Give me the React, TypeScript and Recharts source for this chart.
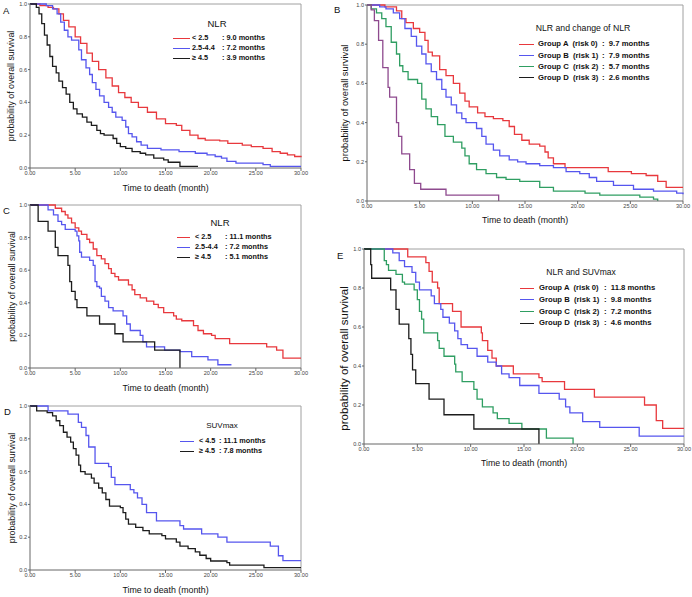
import React from 'react';
import { LineChart, Line, XAxis, YAxis, ReferenceLine, Legend } from 'recharts';

type Pt = [number, number];

const FONT = "'Liberation Sans', Arial, sans-serif";
const RED = '#e8383d';
const BLUE = '#5656ee';
const BLACK = '#1c1c1c';
const GREEN = '#2f9e62';
const PURPLE = '#8e4a8e';

const xTicks = [0, 5, 10, 15, 20, 25, 30];
const yTicks = [0, 0.2, 0.4, 0.6, 0.8, 1];
const xAxisTitle = 'Time to death (month)';
const yAxisTitle = 'probability of overall survival';

// Panel A: NLR
const aLow: Pt[] = [[0,1],[1.1,0.99],[2.0,0.98],[2.6,0.97],[3.2,0.94],[3.7,0.90],[4.3,0.86],[5.0,0.80],[5.6,0.76],[6.3,0.70],[6.9,0.65],[7.6,0.60],[8.4,0.55],[9.1,0.50],[9.8,0.46],[10.5,0.43],[11.2,0.40],[12.0,0.37],[13.0,0.34],[14.0,0.30],[15.0,0.27],[16.2,0.26],[16.8,0.23],[17.7,0.20],[18.6,0.18],[19.4,0.17],[21.0,0.165],[21.9,0.15],[23.5,0.14],[24.5,0.13],[25.8,0.12],[26.8,0.10],[27.7,0.09],[28.5,0.08],[29.3,0.07],[30,0.065]];
const aMid: Pt[] = [[0,1],[1.8,0.99],[2.5,0.97],[3.0,0.94],[3.4,0.89],[3.8,0.84],[4.2,0.80],[4.6,0.78],[5.4,0.72],[5.7,0.66],[6.2,0.61],[6.6,0.57],[6.9,0.52],[7.3,0.48],[7.7,0.44],[8.2,0.40],[8.7,0.37],[9.1,0.34],[9.5,0.31],[10.2,0.29],[10.6,0.25],[10.9,0.21],[11.3,0.19],[11.8,0.16],[12.3,0.14],[13.0,0.12],[14.5,0.11],[16.5,0.10],[18.3,0.09],[19.6,0.08],[20.5,0.07],[21.2,0.06],[21.8,0.04],[22.8,0.03],[25.8,0.02],[26.6,0.01],[30,0.01]];
const aHigh: Pt[] = [[0,1],[0.7,0.98],[1.0,0.94],[1.3,0.88],[1.6,0.81],[1.9,0.75],[2.2,0.68],[2.5,0.62],[2.9,0.58],[3.2,0.53],[3.6,0.49],[4.0,0.45],[4.4,0.40],[4.8,0.36],[5.2,0.33],[5.8,0.31],[6.3,0.28],[6.8,0.26],[7.4,0.23],[7.8,0.21],[8.2,0.20],[9.2,0.18],[9.6,0.15],[10.0,0.13],[10.6,0.12],[11.3,0.10],[12.2,0.09],[12.8,0.08],[13.7,0.06],[14.8,0.05],[15.3,0.035],[16.6,0.01],[18.6,0.01]];

// Panel B: NLR and change of NLR
const bGroupA: Pt[] = [[0,1],[1.7,0.99],[2.8,0.97],[3.3,0.93],[3.7,0.91],[4.4,0.88],[5.0,0.86],[5.5,0.82],[5.8,0.76],[6.2,0.74],[6.9,0.67],[7.5,0.64],[8.2,0.60],[8.8,0.55],[9.3,0.51],[9.7,0.48],[10.5,0.45],[11.2,0.43],[12.0,0.42],[12.9,0.41],[13.5,0.38],[14.0,0.34],[14.7,0.31],[15.4,0.29],[16.4,0.28],[16.9,0.25],[17.2,0.22],[17.7,0.19],[18.8,0.17],[22.9,0.15],[25.1,0.14],[26.5,0.13],[27.6,0.10],[28.4,0.07],[30,0.07]];
const bGroupB: Pt[] = [[0,1],[1.2,0.99],[1.8,0.98],[2.5,0.96],[3.1,0.93],[3.6,0.88],[4.2,0.84],[4.7,0.79],[5.2,0.75],[5.6,0.70],[6.1,0.66],[6.6,0.62],[7.1,0.57],[7.5,0.53],[8.0,0.49],[8.5,0.45],[9.0,0.42],[9.4,0.40],[10.4,0.37],[10.9,0.33],[11.3,0.29],[12.0,0.26],[12.6,0.23],[13.5,0.21],[14.3,0.20],[15.1,0.19],[16.4,0.18],[17.7,0.17],[18.9,0.15],[20.2,0.14],[21.1,0.12],[21.8,0.10],[23.4,0.08],[25.3,0.06],[27.2,0.05],[29.4,0.04],[30,0.035]];
const bGroupC: Pt[] = [[0,1],[0.4,0.98],[0.9,0.96],[1.4,0.93],[1.8,0.89],[2.3,0.81],[2.8,0.75],[3.1,0.69],[3.4,0.66],[3.9,0.62],[4.8,0.60],[5.2,0.52],[5.6,0.47],[6.1,0.43],[6.7,0.39],[7.4,0.33],[8.2,0.30],[9.0,0.27],[9.3,0.23],[9.7,0.19],[10.4,0.16],[11.3,0.14],[12.3,0.12],[13.2,0.11],[14.5,0.10],[16.4,0.07],[17.7,0.05],[20.7,0.04],[22.1,0.03],[25.9,0.02],[27.2,0.01],[27.6,0]];
const bGroupD: Pt[] = [[0,1],[0.4,0.975],[0.7,0.92],[1.1,0.82],[1.5,0.68],[2.0,0.58],[2.15,0.53],[2.8,0.40],[3.0,0.33],[3.3,0.24],[4.05,0.16],[4.5,0.09],[5.1,0.06],[7.5,0.03],[12.5,0]];

// Panel C: NLR
const cLow: Pt[] = [[0,1],[2.8,0.98],[3.5,0.96],[3.9,0.94],[4.2,0.92],[4.6,0.89],[5.0,0.86],[5.4,0.84],[5.7,0.82],[6.3,0.79],[6.6,0.77],[7.0,0.73],[7.4,0.69],[7.9,0.67],[8.3,0.64],[8.7,0.61],[9.0,0.58],[9.4,0.56],[9.8,0.54],[10.9,0.51],[11.3,0.48],[11.6,0.45],[12.2,0.43],[12.9,0.41],[13.7,0.39],[14.2,0.37],[14.8,0.34],[15.9,0.32],[16.2,0.30],[16.8,0.29],[18.1,0.26],[18.6,0.23],[19.2,0.21],[20.1,0.20],[20.5,0.18],[22.1,0.15],[25.8,0.15],[26.2,0.13],[27.3,0.11],[28.0,0.06],[30,0.06]];
const cMid: Pt[] = [[0,1],[2.0,0.97],[2.6,0.94],[3.1,0.90],[3.5,0.88],[3.9,0.85],[5.0,0.84],[5.2,0.81],[5.4,0.78],[5.5,0.71],[5.7,0.68],[6.6,0.66],[7.0,0.63],[7.2,0.53],[7.4,0.50],[7.7,0.49],[7.9,0.44],[8.3,0.41],[8.7,0.37],[9.2,0.35],[10.3,0.32],[10.7,0.27],[11.1,0.23],[12.2,0.20],[12.5,0.16],[12.9,0.13],[14.9,0.11],[16.6,0.10],[17.9,0.07],[19.7,0.05],[20.8,0.02],[22.3,0.02]];
const cHigh: Pt[] = [[0,1],[0.9,0.90],[2.0,0.84],[2.8,0.74],[3.1,0.69],[4.2,0.63],[4.4,0.53],[4.6,0.47],[5.0,0.42],[5.2,0.37],[6.3,0.32],[7.7,0.27],[9.4,0.21],[10.3,0.16],[13.8,0.11],[16.6,0]];

// Panel D: SUVmax
const dLow: Pt[] = [[0,1],[2.0,0.97],[4.2,0.95],[5.35,0.90],[5.7,0.87],[6.2,0.82],[6.5,0.75],[7.2,0.65],[8.7,0.63],[9.0,0.565],[9.4,0.52],[11.1,0.49],[11.5,0.47],[11.9,0.44],[12.4,0.40],[12.9,0.35],[14.0,0.30],[16.6,0.27],[17.0,0.25],[19.0,0.22],[20.8,0.20],[21.8,0.17],[26.6,0.146],[27.5,0.087],[28.0,0.057],[30,0.057]];
const dHigh: Pt[] = [[0,1],[0.74,0.97],[1.9,0.96],[2.5,0.94],[2.9,0.91],[3.3,0.88],[3.7,0.84],[4.1,0.81],[4.5,0.78],[4.8,0.74],[5.1,0.70],[5.4,0.64],[5.6,0.60],[6.1,0.585],[6.8,0.56],[7.1,0.53],[7.6,0.50],[8.0,0.47],[8.4,0.43],[8.8,0.39],[10.0,0.38],[10.3,0.35],[10.6,0.31],[10.9,0.28],[11.7,0.26],[12.5,0.24],[13.2,0.22],[14.6,0.21],[15.0,0.19],[16.2,0.17],[16.6,0.145],[17.5,0.13],[18.3,0.11],[18.8,0.09],[19.5,0.07],[20.0,0.055],[21.8,0.045],[22.1,0.03],[25.9,0.015],[30,0.015]];

// Panel E: NLR and SUVmax
const eGroupA: Pt[] = [[0,1],[4.1,0.96],[5.8,0.93],[6.1,0.885],[6.4,0.83],[6.9,0.80],[7.05,0.72],[8.3,0.68],[9.1,0.60],[11.0,0.57],[11.1,0.53],[11.6,0.48],[12.0,0.44],[12.4,0.40],[14.0,0.36],[16.4,0.34],[16.7,0.32],[18.8,0.28],[21.6,0.24],[26.3,0.20],[27.4,0.12],[28.0,0.08],[30,0.08]];
const eGroupB: Pt[] = [[0,1],[2.7,0.98],[3.3,0.94],[3.8,0.91],[4.5,0.88],[4.85,0.83],[5.2,0.79],[6.3,0.76],[6.6,0.72],[7.2,0.69],[7.4,0.65],[8.0,0.62],[8.5,0.58],[8.8,0.54],[9.1,0.51],[9.7,0.49],[10.6,0.45],[11.6,0.42],[12.4,0.40],[12.9,0.36],[13.6,0.34],[14.6,0.30],[16.4,0.26],[18.3,0.23],[18.9,0.19],[19.3,0.16],[20.5,0.115],[22.1,0.085],[25.8,0.04],[30,0.04]];
const eGroupC: Pt[] = [[0,1],[1.9,0.94],[2.1,0.92],[2.3,0.89],[3.0,0.87],[3.6,0.83],[3.8,0.82],[4.7,0.79],[5.0,0.74],[5.2,0.68],[5.4,0.64],[5.6,0.57],[6.9,0.53],[7.05,0.49],[7.5,0.45],[8.5,0.41],[8.6,0.37],[9.2,0.32],[10.3,0.28],[10.6,0.23],[11.1,0.19],[12.1,0.16],[12.5,0.13],[13.6,0.106],[14.8,0.077],[17.1,0.03],[19.6,0]];
const eGroupD: Pt[] = [[0,1],[0.63,0.92],[0.72,0.85],[2.5,0.79],[3.0,0.69],[3.3,0.615],[4.2,0.54],[4.4,0.46],[4.55,0.38],[4.85,0.31],[6.1,0.23],[7.5,0.15],[10.3,0.077],[16.4,0]];

// Legend texts
const aLegendTitle = 'NLR';
const aLegendLabels = ['< 2.5', '2.5-4.4', '≥ 4.5'];
const aLegendValues = [': 9.0 months', ': 7.2 months', ': 3.9 months'];
const bLegendTitle = 'NLR and change of NLR';
const bLegendLabels = ['Group A  (risk 0)', 'Group B  (risk 1)', 'Group C  (risk 2)', 'Group D  (risk 3)'];
const bLegendValues = [':  9.7 months', ':  7.9 months', ':  5.7 months', ':  2.6 months'];
const cLegendTitle = 'NLR';
const cLegendLabels = ['< 2.5', '2.5-4.4', '≥ 4.5'];
const cLegendValues = [': 11.1 months', ': 7.2 months', ': 5.1 months'];
const dLegendTitle = 'SUVmax';
const dLegendLabels = ['< 4.5', '≥ 4.5'];
const dLegendValues = [': 11.1 months', ': 7.8 months'];
const eLegendTitle = 'NLR and SUVmax';
const eLegendLabels = ['Group A  (risk 0)', 'Group B  (risk 1)', 'Group C  (risk 2)', 'Group D  (risk 3)'];
const eLegendValues = [':  11.8 months', ':  9.8 months', ':  7.2 months', ':  4.6 months'];

const toRows = (pts: Pt[]) => pts.map(([t, s]) => ({ t, s }));

interface Series { data: Pt[]; color: string; }
interface LegendSpec {
  left: number; top: number; width: number; title: string; titleSize: number; titleH: number; gap: number;
  rowH: number; swatchW: number; swatchGap: number; labelW: number; textSize: number;
  labels: string[]; values: string[]; colors: string[];
}
interface PanelSpec {
  left: number; top: number; width: number; height: number; marginTop: number; marginRight: number;
  yAxisWidth: number; xAxisHeight: number; yLabelDx: number; yLabelDy: number; yLabelSize: number; xLabelDy: number;
  series: Series[]; legend: LegendSpec;
}

function LegendBox({ spec }: { spec: LegendSpec }) {
  return (
    <div style={{ width: spec.width, fontFamily: FONT, color: '#111' }}>
      <div style={{ height: spec.titleH, lineHeight: spec.titleH + 'px', fontSize: spec.titleSize, textAlign: 'center', whiteSpace: 'nowrap', marginBottom: spec.gap }}>{spec.title}</div>
      {spec.labels.map((lab, i) => (
        <div key={i} style={{ height: spec.rowH, lineHeight: spec.rowH + 'px', fontSize: spec.textSize, fontWeight: 'bold', whiteSpace: 'nowrap', display: 'flex', alignItems: 'center' }}>
          <span style={{ display: 'inline-block', flex: 'none', width: spec.swatchW, height: 0, borderTop: '1.5px solid ' + spec.colors[i], marginRight: spec.swatchGap }} />
          <span style={{ display: 'inline-block', flex: 'none', width: spec.labelW, whiteSpace: 'pre' }}>{lab}</span>
          <span style={{ whiteSpace: 'pre' }}>{spec.values[i]}</span>
        </div>
      ))}
    </div>
  );
}

function KMPanel({ p }: { p: PanelSpec }) {
  return (
    <div style={{ position: 'absolute', left: p.left, top: p.top }}>
      <LineChart width={p.width} height={p.height} margin={{ top: p.marginTop, right: p.marginRight, left: 0, bottom: 0 }}>
        <XAxis
          type="number" dataKey="t" domain={[0, 30]} ticks={xTicks} interval={0}
          tickFormatter={(v: number) => v.toFixed(2)} height={p.xAxisHeight}
          tick={{ fontSize: 5.6, fill: '#444', fontFamily: FONT }} tickSize={3} tickMargin={0}
          axisLine={{ stroke: '#666' }} tickLine={{ stroke: '#666' }}
          label={{ value: xAxisTitle, position: 'center', dy: p.xLabelDy, fontSize: 8.8, fill: '#111', fontFamily: FONT }}
        />
        <YAxis
          type="number" domain={[0, 1]} ticks={yTicks} interval={0}
          tickFormatter={(v: number) => v.toFixed(1)} width={p.yAxisWidth}
          tick={{ fontSize: 5.6, fill: '#444', fontFamily: FONT }} tickSize={2} tickMargin={1}
          axisLine={{ stroke: '#666' }} tickLine={{ stroke: '#666' }}
          label={{ value: yAxisTitle, angle: -90, position: 'center', dx: p.yLabelDx, dy: p.yLabelDy, fontSize: p.yLabelSize, fill: '#111', fontFamily: FONT }}
        />
        <ReferenceLine y={1} stroke="#a0a0a0" />
        <ReferenceLine x={30} stroke="#a0a0a0" />
        {p.series.map((s, i) => (
          <Line key={i} data={toRows(s.data)} dataKey="s" type="stepAfter" stroke={s.color} strokeWidth={1.3} dot={false} activeDot={false} isAnimationActive={false} />
        ))}
        <Legend
          layout="vertical" align="center" verticalAlign="middle"
          wrapperStyle={{ left: p.legend.left, top: p.legend.top, width: p.legend.width }}
          content={() => <LegendBox spec={p.legend} />}
        />
      </LineChart>
    </div>
  );
}

const panels: PanelSpec[] = [
  {
    left: 0, top: 0, width: 310, height: 200, marginTop: 4, marginRight: 9, yAxisWidth: 30, xAxisHeight: 32,
    yLabelDx: -4.5, yLabelDy: 0, yLabelSize: 8.8, xLabelDy: 4,
    series: [{ data: aLow, color: RED }, { data: aMid, color: BLUE }, { data: aHigh, color: BLACK }],
    legend: { left: 173, top: 18, width: 88, title: aLegendTitle, titleSize: 9.5, titleH: 12, gap: 3, rowH: 10, swatchW: 17, swatchGap: 2, labelW: 30, textSize: 7.3, labels: aLegendLabels, values: aLegendValues, colors: [RED, BLUE, BLACK] },
  },
  {
    left: 336, top: 0, width: 356, height: 225, marginTop: 5, marginRight: 9, yAxisWidth: 31, xAxisHeight: 24,
    yLabelDx: -6.5, yLabelDy: 0, yLabelSize: 9.3, xLabelDy: 6.5,
    series: [{ data: bGroupA, color: RED }, { data: bGroupB, color: BLUE }, { data: bGroupC, color: GREEN }, { data: bGroupD, color: PURPLE }],
    legend: { left: 183, top: 22, width: 128, title: bLegendTitle, titleSize: 8.7, titleH: 12, gap: 4.4, rowH: 11.3, swatchW: 15, swatchGap: 4, labelW: 64, textSize: 7.7, labels: bLegendLabels, values: bLegendValues, colors: [RED, BLUE, GREEN, BLACK] },
  },
  {
    left: 0, top: 200, width: 310, height: 200, marginTop: 5, marginRight: 9, yAxisWidth: 30, xAxisHeight: 32,
    yLabelDx: -3, yLabelDy: 0, yLabelSize: 8.8, xLabelDy: 4,
    series: [{ data: cLow, color: RED }, { data: cMid, color: BLUE }, { data: cHigh, color: BLACK }],
    legend: { left: 177, top: 17, width: 86, title: cLegendTitle, titleSize: 9.5, titleH: 12, gap: 3, rowH: 10, swatchW: 13, swatchGap: 5, labelW: 30, textSize: 7.3, labels: cLegendLabels, values: cLegendValues, colors: [RED, BLUE, BLACK] },
  },
  {
    left: 0, top: 400, width: 310, height: 197, marginTop: 6, marginRight: 9, yAxisWidth: 30, xAxisHeight: 27,
    yLabelDx: -3.5, yLabelDy: 0, yLabelSize: 8.8, xLabelDy: 6.5,
    series: [{ data: dLow, color: BLUE }, { data: dHigh, color: BLACK }],
    legend: { left: 180, top: 20, width: 84, title: dLegendTitle, titleSize: 8, titleH: 12, gap: 4, rowH: 10, swatchW: 14, swatchGap: 5, labelW: 20, textSize: 7.3, labels: dLegendLabels, values: dLegendValues, colors: [BLUE, BLACK] },
  },
  {
    left: 336, top: 228, width: 356, height: 247, marginTop: 21, marginRight: 8, yAxisWidth: 28, xAxisHeight: 31,
    yLabelDx: -6, yLabelDy: 12, yLabelSize: 11.5, xLabelDy: 3.5,
    series: [{ data: eGroupA, color: RED }, { data: eGroupB, color: BLUE }, { data: eGroupC, color: GREEN }, { data: eGroupD, color: BLACK }],
    legend: { left: 184, top: 38, width: 122, title: eLegendTitle, titleSize: 8.5, titleH: 12, gap: 4.2, rowH: 11.7, swatchW: 14, swatchGap: 5, labelW: 65, textSize: 7.7, labels: eLegendLabels, values: eLegendValues, colors: [RED, BLUE, GREEN, BLACK] },
  },
];

const panelLetters = [
  { text: 'A', left: 3, top: 6 },
  { text: 'B', left: 334, top: 5 },
  { text: 'C', left: 3, top: 206 },
  { text: 'D', left: 4, top: 407 },
  { text: 'E', left: 337, top: 251 },
];

export default function App() {
  return (
    <div style={{ position: 'absolute', left: 0, top: 0, width: 692, height: 597, background: '#fff', overflow: 'hidden' }}>
      {panels.map((p, i) => <KMPanel key={i} p={p} />)}
      {panelLetters.map((l) => (
        <div key={l.text} style={{ position: 'absolute', left: l.left, top: l.top, fontFamily: FONT, fontSize: 9.5, lineHeight: '10px', color: '#111' }}>{l.text}</div>
      ))}
    </div>
  );
}
